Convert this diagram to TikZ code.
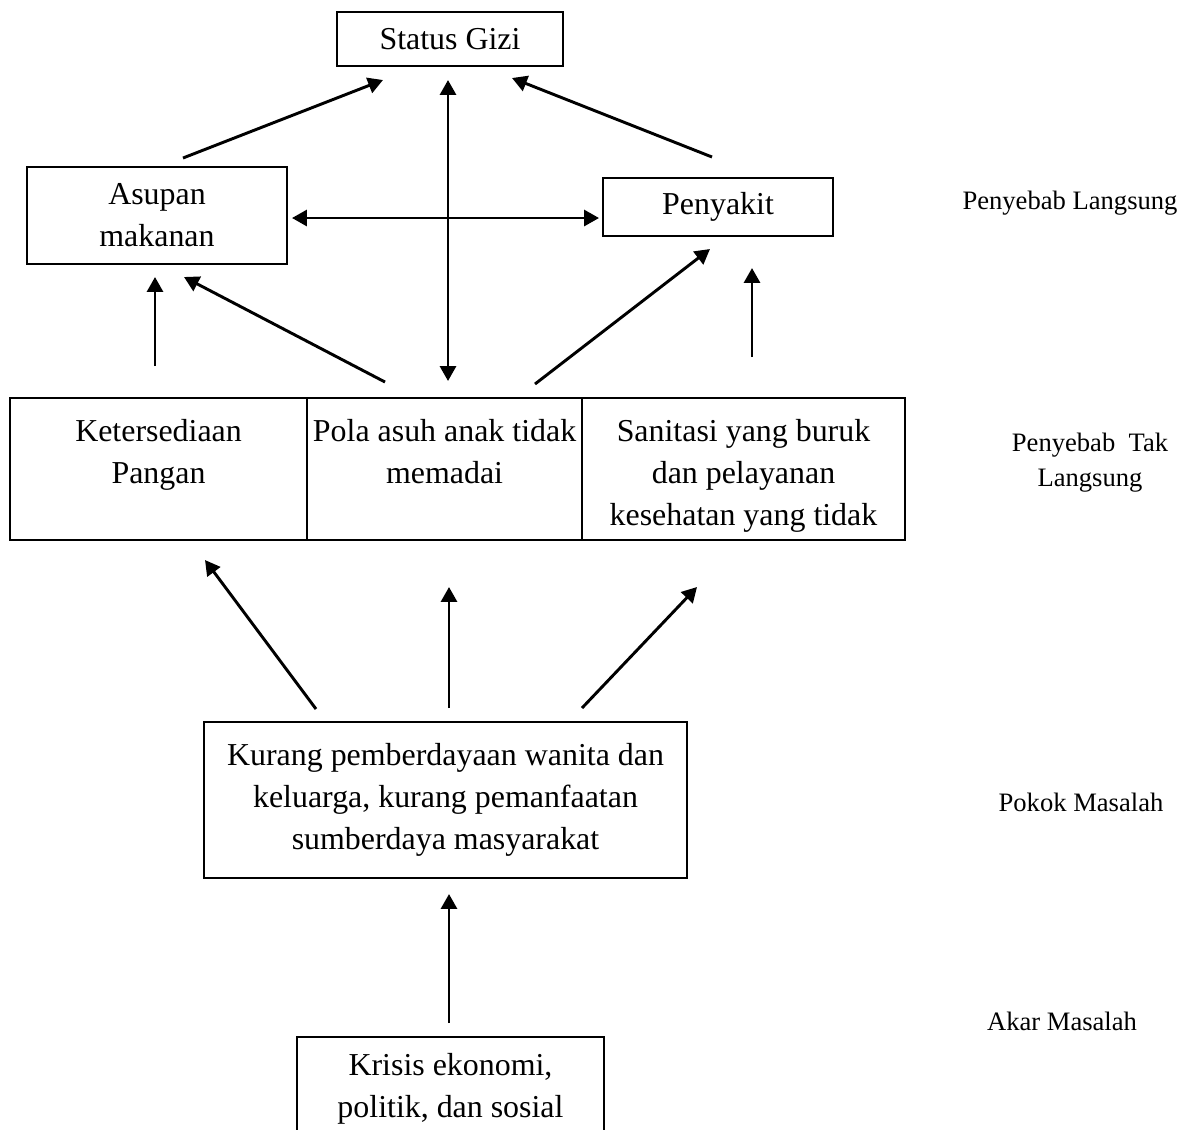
\documentclass[tikz,border=0pt]{standalone}
\usepackage{fontspec}
\setmainfont{Liberation Serif}
\usetikzlibrary{arrows.meta}
\tikzset{
  box/.style={draw,line width=0.8pt,align=center,inner sep=0pt},
  cell/.style={draw,line width=0.8pt,align=flush center,inner sep=0pt,outer sep=0pt,
    text height=16.2pt,text depth=37.2pt,anchor=north west},
  link/.style={line width=1.1pt,-{Triangle[length=5.6pt,width=6pt]}},
  twoway/.style={line width=1.1pt,
    {Triangle[length=5.6pt,width=6pt]}-{Triangle[length=5.6pt,width=6pt]}},
  level/.style={font=\fontsize{10}{13.2}\selectfont,align=center}
}

\begin{document}
\begin{tikzpicture}[x=0.376pt,y=-0.376pt,font=\fontsize{12}{15.8}\selectfont]
\path[use as bounding box] (0,0) rectangle (1198,1129);

% Direct causes and the outcome
\node[box,minimum width=85pt,minimum height=20.3pt] (gizi) at (450,39) {Status Gizi};
\node[box,minimum width=97.8pt,minimum height=36.5pt] (asupan) at (157,215.5)
  {Asupan\\makanan};
\node[box,minimum width=86.5pt,minimum height=21.8pt] (penyakit) at (718,207)
  {Penyakit};

% Indirect causes: three cells side by side, text set from the top
\node[cell,text width=111.7pt] (pangan) at (10,398) {Ketersediaan\\Pangan};
\node[cell,text width=103.4pt] (pola) at (pangan.north east)
  {Pola asuh anak tidak\\memadai};
\node[cell,text width=121.4pt] (sanitasi) at (pola.north east)
  {Sanitasi yang buruk\\dan pelayanan\\kesehatan yang tidak};

% Basic problem and root; the last box runs off the page
\node[box,minimum width=181.6pt,minimum height=58.7pt] (kurang) at (445.5,800)
  {Kurang pemberdayaan wanita dan\\keluarga, kurang pemanfaatan\\sumberdaya masyarakat};
\node[box,minimum width=115.4pt,minimum height=38.7pt] (krisis) at (450.5,1088.5)
  {Krisis ekonomi,\\politik, dan sosial};

% Level captions on the right
\node[level] (lvlA) at (1070,203) {Penyebab Langsung};
\node[level] (lvlB) at (1090,463) {Penyebab~~Tak\\Langsung};
\node[level] (lvlC) at (1081,802) {Pokok Masalah};
\node[level] (lvlD) at (1062,1021) {Akar Masalah};

% Arrow ends stop short of the boxes
\coordinate (asupanOut) at (183,158);   \coordinate (giziInL) at (383,80);
\coordinate (giziInM) at (448,80);      \coordinate (polaInT) at (448,381);
\coordinate (asupanInR) at (292,218);   \coordinate (penyakitInL) at (599,218);
\coordinate (penyakitOut) at (712,157); \coordinate (giziInR) at (512,78);
\coordinate (panganOut) at (155,366);   \coordinate (asupanInB) at (155,277);
\coordinate (polaOutL) at (385,382);    \coordinate (asupanInD) at (184,277);
\coordinate (polaOutR) at (535,384);    \coordinate (penyakitInD) at (710,249);
\coordinate (sanitasiOut) at (752,357); \coordinate (penyakitInB) at (752,268);
\coordinate (kurangOutL) at (316,709);  \coordinate (panganIn) at (205,560);
\coordinate (kurangOutM) at (449,708);  \coordinate (polaInB) at (449,587);
\coordinate (kurangOutR) at (582,708);  \coordinate (sanitasiIn) at (697,587);
\coordinate (krisisOut) at (449,1023);  \coordinate (kurangIn) at (449,894);

\draw[link] (asupanOut) -- (giziInL);
\draw[link] (penyakitOut) -- (giziInR);
\draw[twoway] (giziInM) -- (polaInT);
\draw[twoway] (asupanInR) -- (penyakitInL);
\draw[link] (panganOut) -- (asupanInB);
\draw[link] (polaOutL) -- (asupanInD);
\draw[link] (polaOutR) -- (penyakitInD);
\draw[link] (sanitasiOut) -- (penyakitInB);
\draw[link] (kurangOutL) -- (panganIn);
\draw[link] (kurangOutM) -- (polaInB);
\draw[link] (kurangOutR) -- (sanitasiIn);
\draw[link] (krisisOut) -- (kurangIn);
\end{tikzpicture}
\end{document}
